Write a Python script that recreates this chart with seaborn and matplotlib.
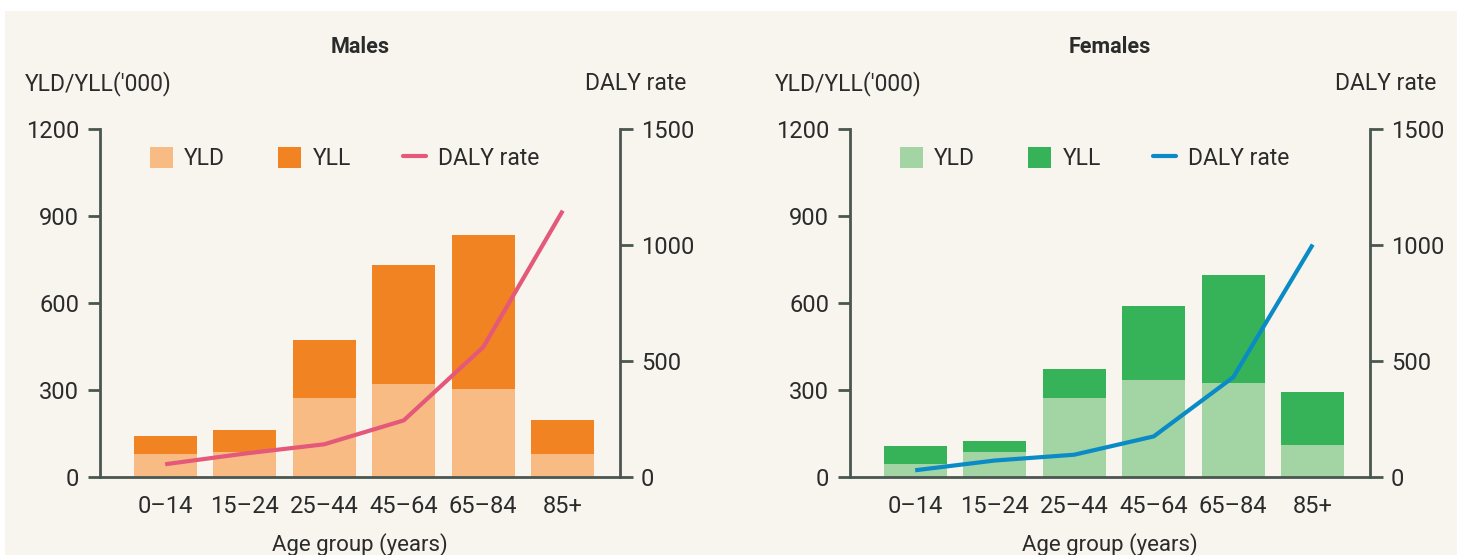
import numpy as np
import pandas as pd
import matplotlib
matplotlib.use("Agg")
import matplotlib.pyplot as plt
import seaborn as sns
from matplotlib.patches import Patch, Rectangle
from matplotlib.lines import Line2D

# data
ages = ["0–14", "15–24", "25–44", "45–64", "65–84", "85+"]
male_yld = [78, 85, 274, 319, 305, 78]
male_yll = [62, 76, 197, 413, 531, 117]
male_daly = [55, 101, 141, 244, 560, 1148]
female_yld = [44, 85, 274, 333, 323, 109]
female_yll = [62, 38, 100, 258, 372, 183]
female_daly = [29, 71, 96, 175, 430, 1002]

BG = "#F8F5EF"
SPINE = "#4B5651"
TXT = "#2B2B2B"

sns.set_style("ticks")
plt.rcParams["font.family"] = ["Roboto", "DejaVu Sans"]
plt.rcParams["text.color"] = TXT
plt.rcParams["axes.labelcolor"] = TXT


def panel(fig, rect, title, yld, yll, daly, c_yld, c_yll, c_line):
    ax = fig.add_axes(rect)
    df = pd.DataFrame({"age": ages, "yld": yld, "yll": yll, "daly": daly})
    df["total"] = df["yld"] + df["yll"]
    df["pos"] = np.arange(len(df))

    sns.barplot(data=df, x="age", y="total", color=c_yll, ax=ax, width=0.79,
                saturation=1, edgecolor="none")
    sns.barplot(data=df, x="age", y="yld", color=c_yld, ax=ax, width=0.79,
                saturation=1, edgecolor="none")
    ax.set_facecolor("none")
    ax.set_ylim(0, 1200)
    ax.set_yticks([0, 300, 600, 900, 1200])
    ax.set_xlim(-0.82, 5.72)
    ax.set_ylabel("")
    ax.set_xlabel("Age group (years)", fontsize=16, labelpad=11)

    ax2 = ax.twinx()
    sns.lineplot(data=df, x="pos", y="daly", color=c_line, lw=3, ax=ax2,
                 solid_capstyle="butt")
    ax2.set_ylim(0, 1500)
    ax2.set_yticks([0, 500, 1000, 1500])
    ax2.set_ylabel("")
    ax2.set_xlim(-0.82, 5.72)

    for a in (ax, ax2):
        a.spines["top"].set_visible(False)
        for s in a.spines.values():
            s.set_color(SPINE)
            s.set_linewidth(2)
        a.tick_params(axis="y", length=9, width=2, color=SPINE,
                      labelsize=17, labelcolor=TXT, pad=6)
    ax.spines["right"].set_visible(False)
    ax2.spines["left"].set_visible(False)
    ax2.spines["bottom"].set_visible(False)
    ax.tick_params(axis="x", length=0, labelsize=17, labelcolor=TXT, pad=13)

    handles = [Patch(facecolor=c_yld, edgecolor="none"),
               Patch(facecolor=c_yll, edgecolor="none"),
               Line2D([], [], color=c_line, lw=3)]
    ax.legend(handles, ["YLD", "YLL", "DALY rate"], ncol=3, frameon=False,
              loc="center left", bbox_to_anchor=(0.096, 0.915), fontsize=16.5,
              handlelength=1.0, handleheight=1.0, handletextpad=0.5,
              columnspacing=2.3, borderpad=0, borderaxespad=0)

    x0, y0, w, h = rect
    fig.text(x0 + w / 2, 1 - 47 / 555, title, ha="center", va="center",
             fontsize=15.5, fontweight="bold")
    fig.text(x0 - 75 / 1457, 1 - 84 / 555, "YLD/YLL('000)", ha="left",
             va="center", fontsize=16.5)
    fig.text(x0 + w + 66 / 1457, 1 - 84 / 555, "DALY rate", ha="right",
             va="center", fontsize=16.5)
    return ax


fig = plt.figure(figsize=(14.57, 5.55), dpi=100, facecolor="white")
fig.patches.append(Rectangle((5 / 1457, 0), 1, 1 - 11 / 555,
                             transform=fig.transFigure, facecolor=BG,
                             edgecolor="none", zorder=-10))

bottom = 1 - 477 / 555
height = 348 / 555
panel(fig, [100 / 1457, bottom, 520 / 1457, height], "Males",
      male_yld, male_yll, male_daly, "#F9BB84", "#F28322", "#E4587A")
panel(fig, [850 / 1457, bottom, 520 / 1457, height], "Females",
      female_yld, female_yll, female_daly, "#A3D4A4", "#36B359", "#0A8BC6")

fig.savefig("out.png", dpi=100, facecolor="white")
